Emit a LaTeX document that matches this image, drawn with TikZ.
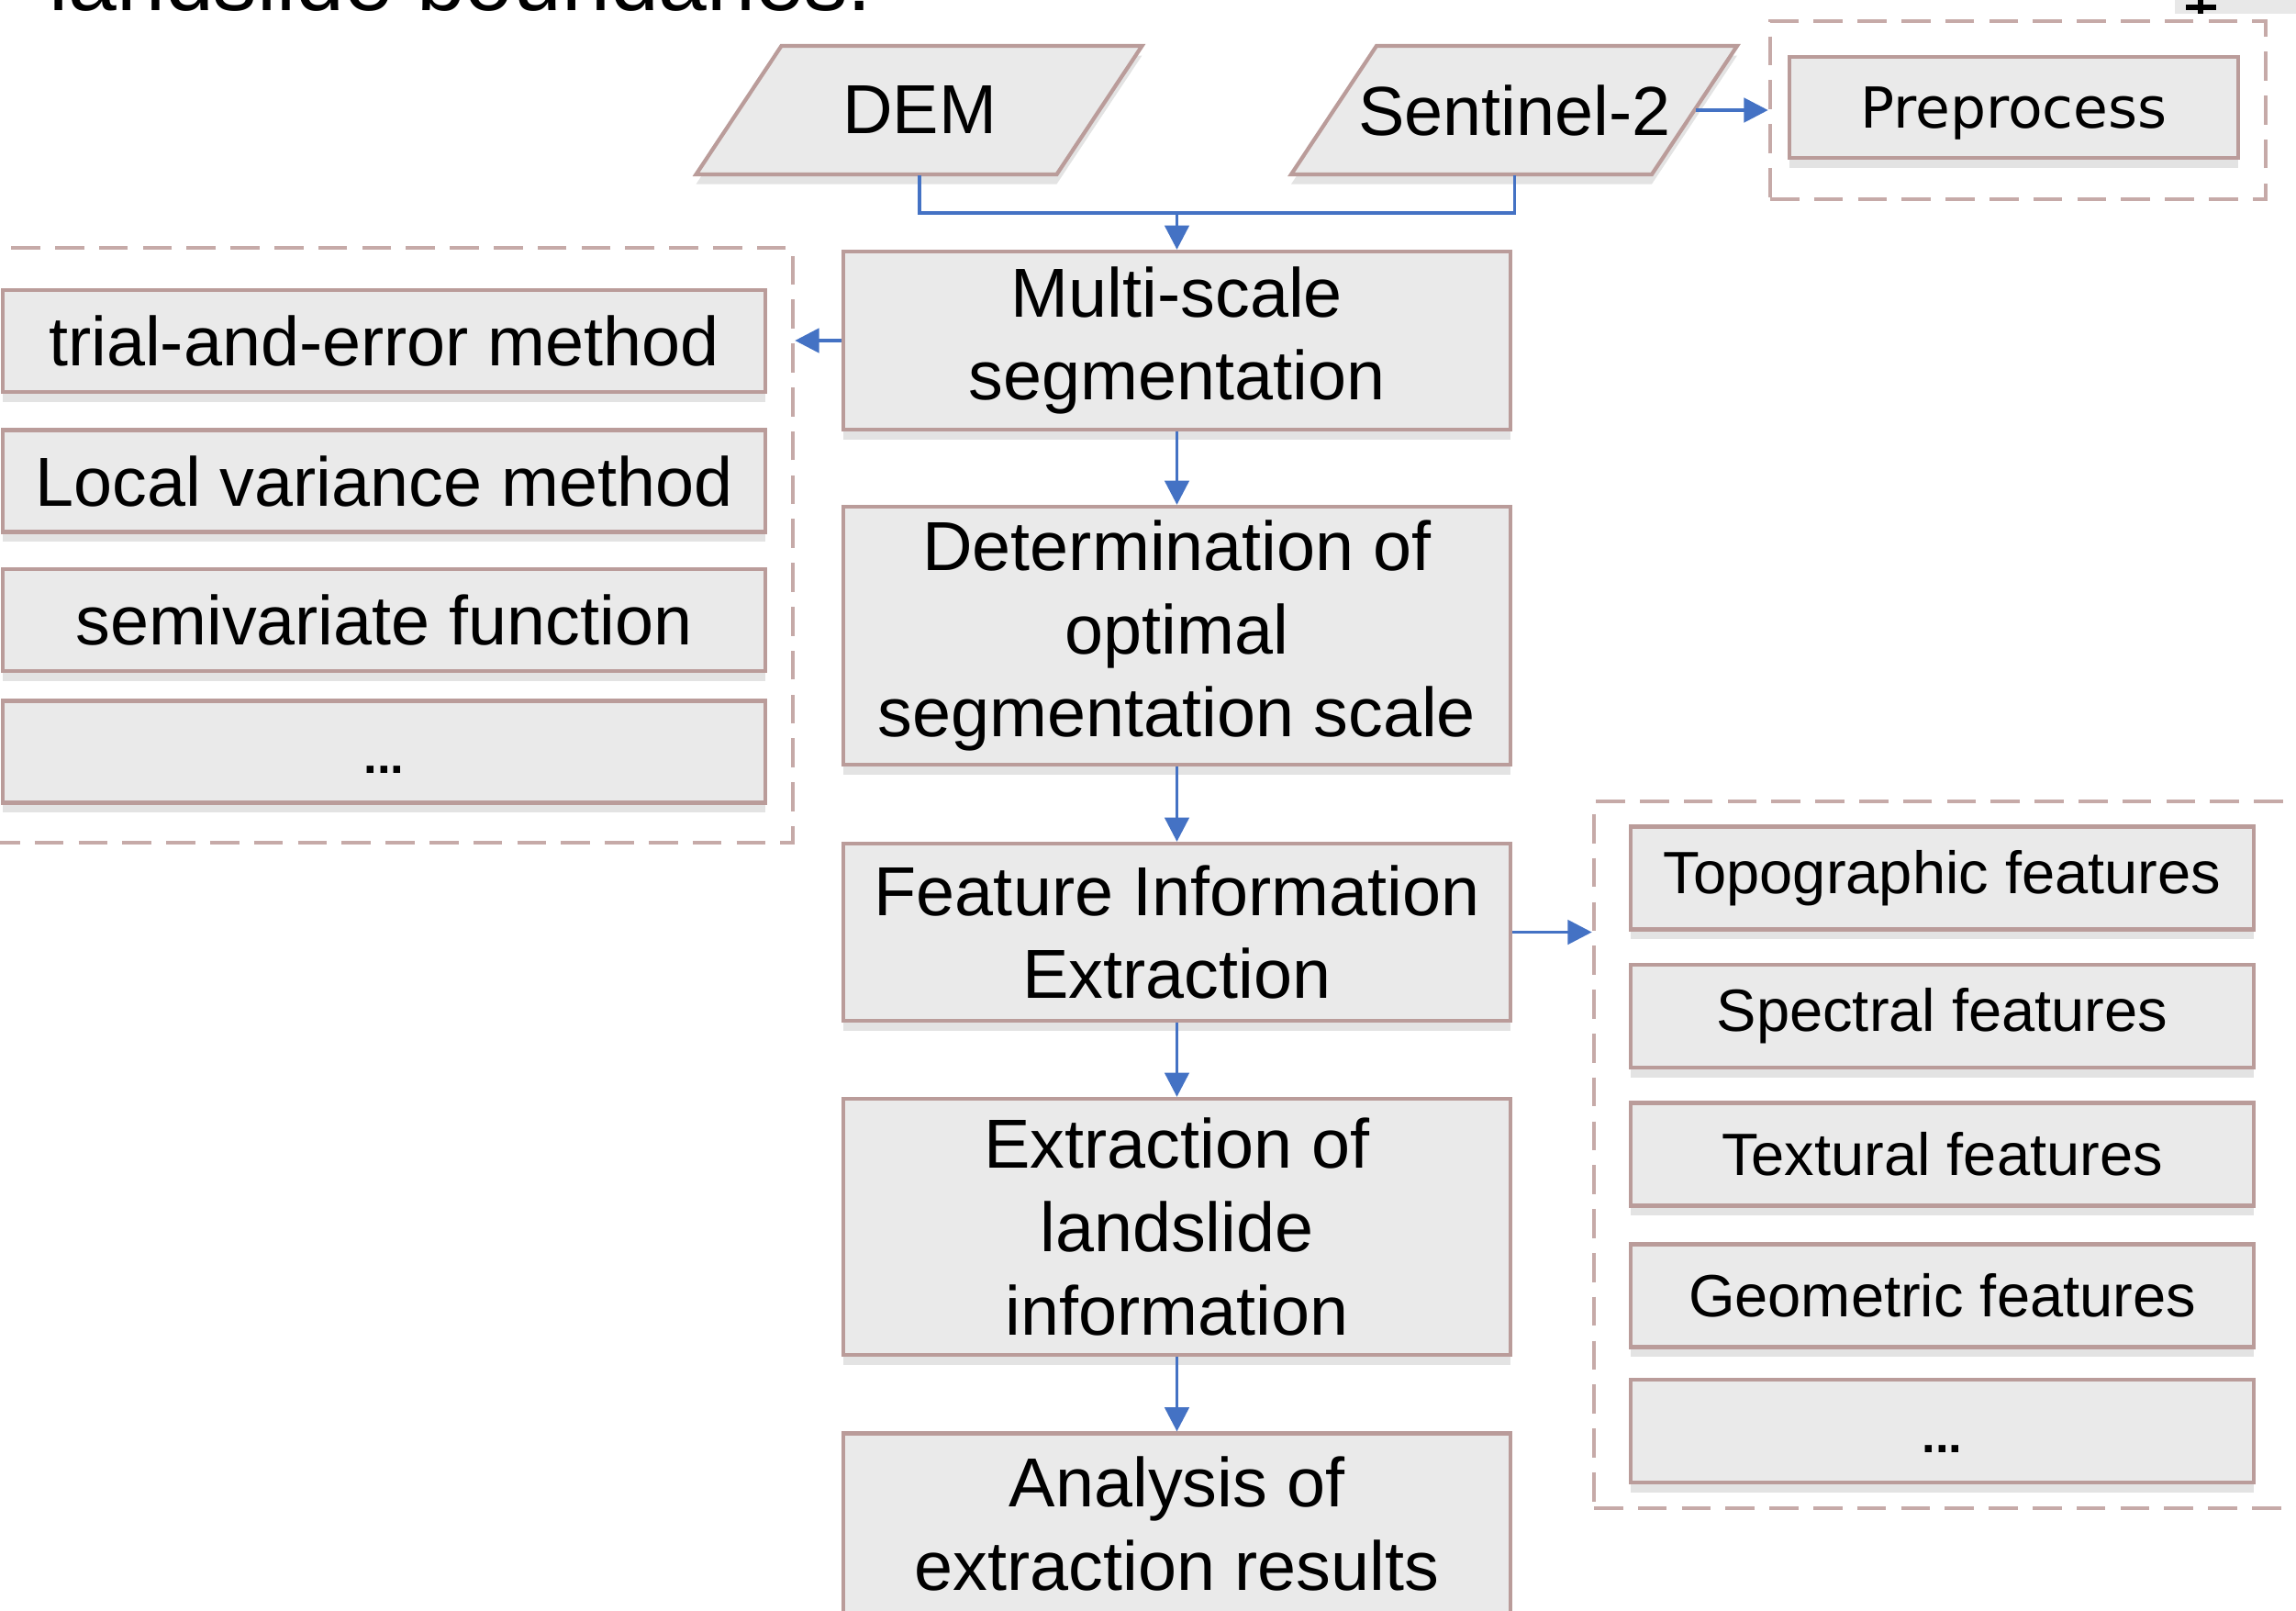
\documentclass[tikz,border=0pt]{standalone}
\usepackage{fontspec}
\setmainfont{Liberation Sans}
\newfontfamily\prepfont{DejaVu Sans}
\usetikzlibrary{arrows.meta,shadows}
\definecolor{lsfill}{RGB}{234,234,234}
\definecolor{lsedge}{RGB}{186,156,154}
\definecolor{lsdash}{RGB}{198,170,168}
\definecolor{lsblue}{RGB}{68,114,196}
\begin{document}
\begin{tikzpicture}[
  lsshape/.style = {draw=lsedge, line width=1.2pt, fill=lsfill,
    drop shadow={shadow xshift=0pt, shadow yshift=-3pt, opacity=0.22}},
  lsbox/.style = {lsshape, align=center, inner sep=0pt,
    font=\fontsize{21.5}{25.8}\selectfont},
  lsmain/.style = {lsbox, minimum width=7.27cm},
  lsleft/.style = {lsbox, minimum width=8.31cm, minimum height=1.11cm},
  lsright/.style = {lsbox, minimum width=6.79cm, minimum height=1.12cm,
    font=\fontsize{18.5}{22}\selectfont},
  lsdots/.style = {font=\bfseries\fontsize{15}{17}\selectfont,
    text height=0.46cm, text depth=0pt},
  lsdata/.style = {inner sep=0pt, minimum width=3.93cm, minimum height=1.40cm,
    font=\fontsize{21.5}{25.8}\selectfont},
  lsgroup/.style = {draw=lsdash, line width=1.3pt, dash pattern=on 9pt off 4.6pt,
    inner sep=0pt},
  lsline/.style = {draw=lsblue, line width=1.1pt},
  lsarrow/.style = {lsline, -{Triangle[length=7.5pt,width=7.5pt]}}
]
  \useasboundingbox (0,0) rectangle (25.02,-17.55);
  % cut-off caption line and corner marks
  \node[anchor=base west, font=\fontsize{27}{30}\selectfont] (title)
    at (0.41,-0.12) {landslide boundaries.};
  \fill[gray!18] (23.70,0) rectangle (25.02,-0.15);
  \draw[line width=1.6pt] (23.82,-0.08) -- (24.15,-0.08);
  \draw[line width=1.6pt] (23.98,0) -- (23.98,-0.15);
  % input data (parallelograms)
  \draw[lsshape] (7.585,-1.90) -- ++(3.93,0) -- ++(0.93,1.40) -- ++(-3.93,0) -- cycle;
  \node[lsdata] (dem) at (10.02,-1.20) {DEM};
  \draw[lsshape] (14.07,-1.90) -- ++(3.93,0) -- ++(0.93,1.40) -- ++(-3.93,0) -- cycle;
  \node[lsdata] (sen) at (16.505,-1.20) {Sentinel-2};
  \node[lsgroup, minimum width=5.40cm, minimum height=1.94cm] (prepgrp)
    at (21.99,-1.20) {};
  \node[lsbox, minimum width=4.89cm, minimum height=1.10cm, text depth=0pt,
    font=\prepfont\fontsize{17.5}{21}\selectfont] (prep) at (21.945,-1.17) {Preprocess};
  % main flow
  \node[lsmain, minimum height=1.94cm] (ms) at (12.825,-3.71)
    {Multi-scale\\segmentation};
  \node[lsmain, minimum height=2.81cm] (det) at (12.825,-6.925)
    {Determination of\\optimal\\segmentation scale};
  \node[lsmain, minimum height=1.93cm] (feat) at (12.825,-10.155)
    {Feature Information\\Extraction};
  \node[lsmain, minimum height=2.79cm] (ext) at (12.825,-13.365)
    {Extraction of\\landslide\\information};
  \node[lsmain, minimum height=1.97cm] (ana) at (12.825,-16.60)
    {Analysis of\\extraction results};
  % scale selection methods
  \node[lsgroup, minimum width=8.74cm, minimum height=6.48cm] (lgrp)
    at (4.27,-5.94) {};
  \node[lsleft] (trial) at (4.185,-3.715) {trial-and-error method};
  \node[lsleft] (local) at (4.185,-5.24) {Local variance method};
  \node[lsleft] (semi) at (4.185,-6.755) {semivariate function};
  \node[lsleft, lsdots] (ldots) at (4.185,-8.19) {...};
  % feature groups
  \node[lsgroup, minimum width=8.03cm, minimum height=7.70cm] (rgrp)
    at (21.385,-12.58) {};
  \node[lsright] (topo) at (21.165,-9.565) {Topographic features};
  \node[lsright] (spec) at (21.165,-11.07) {Spectral features};
  \node[lsright] (text) at (21.165,-12.575) {Textural features};
  \node[lsright] (geo) at (21.165,-14.115) {Geometric features};
  \node[lsright, lsdots] (rdots) at (21.165,-15.59) {...};
  % connectors
  \coordinate (join) at (12.825,-2.32);
  \draw[lsline] (dem) |- (join) -| (sen);
  \draw[lsarrow] (join) -- (ms);
  \draw[lsarrow] (sen) -- (prepgrp);
  \draw[lsarrow] (ms.west) -- (ms.west -| lgrp.east);
  \draw[lsarrow] (ms) -- (det);
  \draw[lsarrow] (det) -- (feat);
  \draw[lsarrow] (feat.east) -- (feat.east -| rgrp.west);
  \draw[lsarrow] (feat) -- (ext);
  \draw[lsarrow] (ext) -- (ana);
\end{tikzpicture}
\end{document}
